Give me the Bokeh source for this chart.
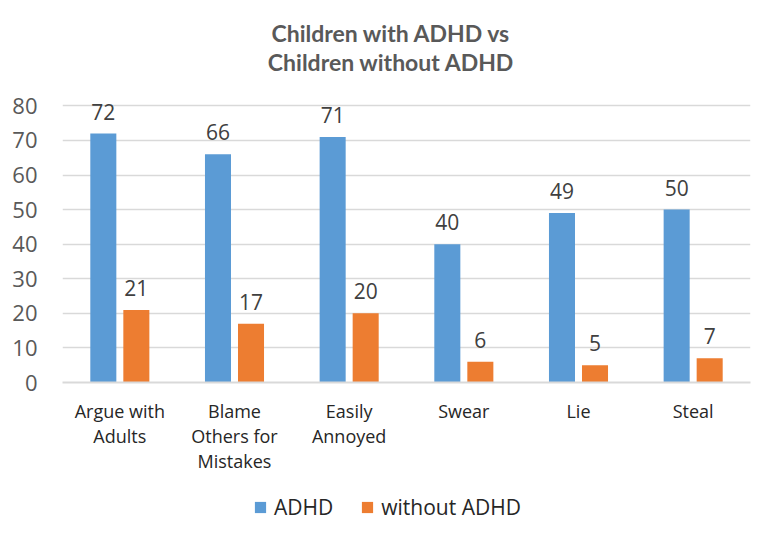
from bokeh.plotting import figure
from bokeh.models import ColumnDataSource, FactorRange, Legend, LegendItem, Range1d
from bokeh.layouts import column
from bokeh.transform import dodge
from bokeh.embed import file_html
from bokeh.resources import INLINE
from bokeh.core.properties import value

title_lines = ["Children with ADHD vs", "Children without ADHD"]
categories = ["Argue with\nAdults", "Blame\nOthers for\nMistakes", "Easily\nAnnoyed", "Swear", "Lie", "Steal"]
adhd = [72, 66, 71, 40, 49, 50]
without_adhd = [21, 17, 20, 6, 5, 7]
series_names = ["ADHD", "without ADHD"]
y_ticks = [0, 10, 20, 30, 40, 50, 60, 70, 80]

BLUE = "#5B9BD5"
ORANGE = "#ED7D31"
GRID = "#D9D9D9"
TXT = "#595959"
W = 766

src = ColumnDataSource(dict(
    cat=categories, adhd=adhd, wo=without_adhd,
    adhd_lbl=[str(v) for v in adhd], wo_lbl=[str(v) for v in without_adhd],
))

# ---- title strip ----
pt = figure(width=W, height=88, x_range=Range1d(0, W), y_range=Range1d(0, 88),
            x_axis_type=None, y_axis_type=None, output_backend="svg",
            toolbar_location=None, min_border=0, sizing_mode="fixed")
pt.outline_line_color = None
pt.grid.visible = False
pt.text(x=[366, 366], y=[56, 27], text=title_lines, text_align="center",
        text_baseline="middle", text_font=value("Lato"), text_font_style="bold",
        text_font_size="23px", text_color=TXT)

# ---- main chart ----
p = figure(width=W, height=399, x_range=FactorRange(*categories), y_range=Range1d(0, 83),
           output_backend="svg", toolbar_location=None, min_border_left=62,
           min_border_right=16, min_border_top=7, min_border_bottom=105, sizing_mode="fixed")
p.outline_line_color = None
p.background_fill_color = "white"
p.border_fill_color = "white"

b1 = p.vbar(x=dodge("cat", -0.144, range=p.x_range), top="adhd", width=0.227, source=src,
            fill_color=BLUE, line_color=None)
b2 = p.vbar(x=dodge("cat", 0.144, range=p.x_range), top="wo", width=0.227, source=src,
            fill_color=ORANGE, line_color=None)

p.text(x=dodge("cat", -0.144, range=p.x_range), y="adhd", text="adhd_lbl", source=src,
       text_align="center", text_baseline="bottom", y_offset=-14,
       text_font=value("Open Sans"), text_font_size="21px", text_color="#404040")
p.text(x=dodge("cat", 0.144, range=p.x_range), y="wo", text="wo_lbl", source=src,
       text_align="center", text_baseline="bottom", y_offset=-14,
       text_font=value("Open Sans"), text_font_size="21px", text_color="#404040")

p.yaxis.ticker = y_ticks
p.yaxis.axis_line_color = None
p.yaxis.major_tick_line_color = None
p.yaxis.minor_tick_line_color = None
p.yaxis.major_label_text_font = "Open Sans"
p.yaxis.major_label_text_font_size = "22px"
p.yaxis.major_label_text_color = TXT
p.yaxis.major_label_standoff = 19

p.xaxis.axis_line_color = GRID
p.xaxis.axis_line_width = 2
p.xaxis.major_tick_line_color = None
p.xaxis.minor_tick_line_color = None
p.xaxis.major_label_text_font = "Open Sans"
p.xaxis.major_label_text_font_size = "18px"
p.xaxis.major_label_text_color = "#262626"
p.xaxis.major_label_standoff = 10
p.xaxis.major_label_text_line_height = 1.05

p.xgrid.grid_line_color = None
p.ygrid.grid_line_color = GRID
p.ygrid.grid_line_width = 1.5

# ---- legend strip (series glyphs lie outside its visible y range) ----
pl = figure(width=W, height=40, x_range=FactorRange(*categories), y_range=Range1d(100, 101),
            x_axis_type=None, y_axis_type=None, output_backend="svg",
            toolbar_location=None, min_border=0, sizing_mode="fixed")
pl.outline_line_color = None
pl.grid.visible = False
r1 = pl.vbar(x=dodge("cat", -0.144, range=pl.x_range), top="adhd", width=0.227, source=src,
             fill_color=BLUE, line_color=None)
r2 = pl.vbar(x=dodge("cat", 0.144, range=pl.x_range), top="wo", width=0.227, source=src,
             fill_color=ORANGE, line_color=None)
legend = Legend(items=[LegendItem(label=series_names[0], renderers=[r1]),
                       LegendItem(label=series_names[1], renderers=[r2])],
                orientation="horizontal", location=(191, 6),
                label_text_font="Open Sans", label_text_font_size="21px",
                label_text_color="#262626", glyph_width=14, glyph_height=14,
                spacing=27, border_line_color=None, background_fill_alpha=0,
                padding=5, margin=0, label_standoff=7)
pl.add_layout(legend, "center")

layout = column(pt, p, pl, spacing=0)
open("out.html", "w").write(file_html(layout, INLINE))
